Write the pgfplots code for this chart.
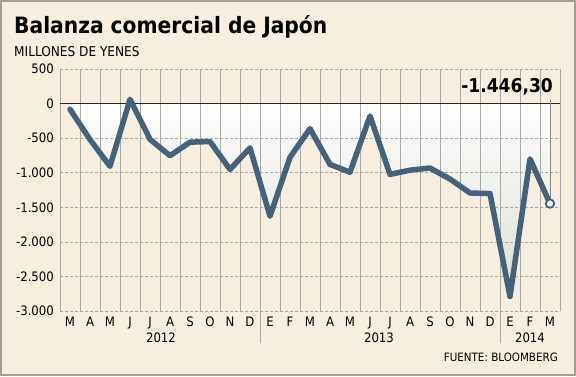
\documentclass[border=0pt]{standalone}
\usepackage{pgfplots}
\pgfplotsset{compat=1.18}
\usepackage{fontspec}
\setmainfont{DejaVu Sans Condensed}
\definecolor{bgc}{HTML}{F7EEDF}
\definecolor{linec}{HTML}{46617A}
\definecolor{fillc}{HTML}{DCE0D4}
\definecolor{gridc}{HTML}{A8A8A4}
\definecolor{borderc}{HTML}{A89E98}
\begin{document}
\begin{tikzpicture}
\fill[bgc] (0pt,0pt) rectangle (576pt,376pt);
\draw[borderc, line width=2pt] (1pt,1pt) rectangle (575pt,375pt);
\begin{axis}[
  at={(60pt,65pt)}, anchor=south west,
  scale only axis, width=500pt, height=242pt,
  xmin=-0.5, xmax=24.5, ymin=-3000, ymax=500,
  axis line style={draw=none},
  major tick length=0pt, minor tick length=0pt,
  xtick={0,...,24},
  xticklabels={M,A,M,J,J,A,S,O,N,D,E,F,M,A,M,J,J,A,S,O,N,D,E,F,M},
  ytick={-3000,-2500,...,500},
  yticklabels={-3.000,-2.500,-2.000,-1.500,-1.000,-500,0,500},
  yticklabel style={font=\fontsize{13}{13}\selectfont, inner sep=0pt, xshift=-6pt},
  xticklabel style={font=\fontsize{13}{13}\selectfont, inner sep=0pt, yshift=-6pt, anchor=north},
  clip=false,
]
\addplot[draw=none, top color=white, bottom color=fillc] coordinates {
(0,0) (0,-82.6) (1,-520) (2,-907) (3,61.7) (4,-517) (5,-754) (6,-558) (7,-549) (8,-953) (9,-641)
(10,-1629) (11,-777) (12,-362) (13,-880) (14,-993) (15,-180) (16,-1024) (17,-963) (18,-932)
(19,-1091) (20,-1293) (21,-1302) (22,-2790) (23,-800) (24,-1446.3) (24,0)} \closedcycle;
\pgfplotsinvokeforeach{-3000,-2500,...,500}{
  \draw[gridc, line width=0.7pt, dash pattern=on 3pt off 2pt] (axis cs:-0.5,#1) -- (axis cs:24.5,#1);
}
\pgfplotsinvokeforeach{-0.5,0.5,...,24.5}{
  \draw[gridc, line width=0.8pt] (axis cs:#1,-3000) -- (axis cs:#1,500);
}
\draw[black!85, line width=1pt] (axis cs:-0.5,0) -- (axis cs:24.5,0);
\draw[gridc!80!black, line width=0.8pt] (axis cs:24,-1446.3) -- (axis cs:24,45);
\addplot[linec, line width=5.5pt, line join=round, line cap=round] coordinates {
(0,-82.6) (1,-520) (2,-907) (3,61.7) (4,-517) (5,-754) (6,-558) (7,-549) (8,-953) (9,-641)
(10,-1629) (11,-777) (12,-362) (13,-880) (14,-993) (15,-180) (16,-1024) (17,-963) (18,-932)
(19,-1091) (20,-1293) (21,-1302) (22,-2790) (23,-800) (24,-1446.3)};
\addplot[only marks, mark=*, mark size=4.2pt, mark options={fill=white, draw=linec, line width=1.8pt}] coordinates {(24,-1446.3)};
\draw[gridc, line width=0.8pt] (axis cs:9.5,-3000) -- (axis cs:9.5,-3460);
\draw[gridc, line width=0.8pt] (axis cs:21.5,-3000) -- (axis cs:21.5,-3460);
\end{axis}
\node[anchor=base west, inner sep=0pt, font=\bfseries\fontsize{22.5}{24}\selectfont] at (14pt,342pt) {Balanza comercial de Japón};
\node[anchor=base west, inner sep=0pt, font=\fontsize{13.5}{14}\selectfont] at (14pt,320pt) {MILLONES DE YENES};
\node[anchor=base east, inner sep=0pt, font=\bfseries\fontsize{19}{19}\selectfont] at (553pt,284pt) {-1.446,30};
\node[anchor=center, inner sep=0pt, font=\fontsize{13}{13}\selectfont] at (161pt,38pt) {2012};
\node[anchor=center, inner sep=0pt, font=\fontsize{13}{13}\selectfont] at (379pt,38pt) {2013};
\node[anchor=center, inner sep=0pt, font=\fontsize{13}{13}\selectfont] at (530pt,38pt) {2014};
\node[anchor=base east, inner sep=0pt, font=\fontsize{11.5}{12}\selectfont] at (558pt,15pt) {FUENTE: BLOOMBERG};
\end{tikzpicture}
\end{document}
